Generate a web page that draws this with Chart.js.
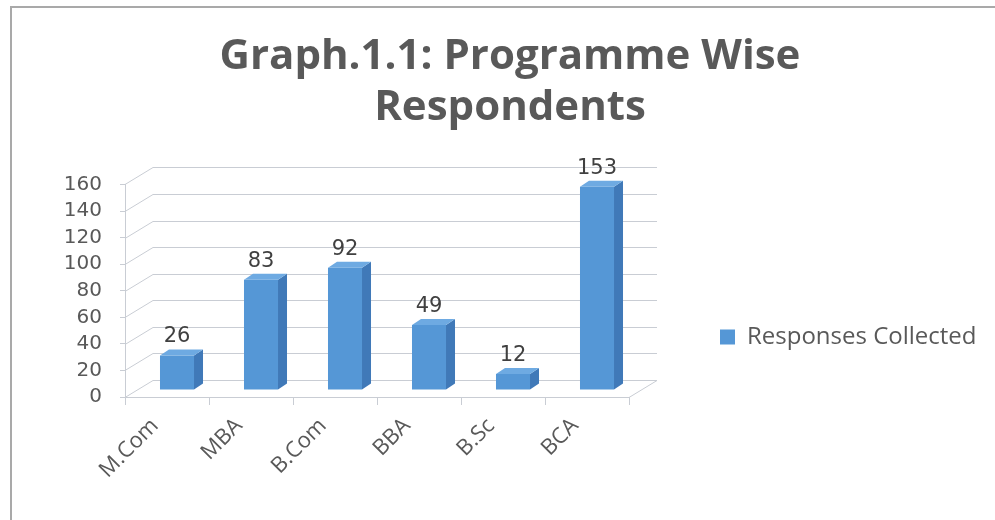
<!DOCTYPE html>
<html lang="en">
<head>
<meta charset="UTF-8">
<title>Programme Wise Respondents</title>
<script src="https://cdn.jsdelivr.net/npm/chart.js"></script>
<style>
  html, body { margin: 0; padding: 0; background: #fff; }
  #wrap { position: relative; width: 995px; height: 520px; }
</style>
</head>
<body>
<div id="wrap"><canvas id="myChart"></canvas></div>
<script>
// data
const programmes = ['M.Com', 'MBA', 'B.Com', 'BBA', 'B.Sc', 'BCA'];
const responses = [26, 83, 92, 49, 12, 153];
const seriesName = 'Responses Collected';
const titleLines = ['Graph.1.1: Programme Wise', 'Respondents'];
const yMin = 0, yMax = 160, yStep = 20;

// fake 3d look (Excel style)
const WALL_DX = 28, WALL_DY = -17;   // back wall offset from front axes
const BAR_DX = 10, BAR_DY = -7;      // bars stand half way in depth
const SIDE_DX = 9, SIDE_DY = -6;     // bar depth
const GRID = '#c9cdd4';
const TEXT = '#595959';

// legend placement: measure the label so the plot ends near x=629
const LEG_FONT = 24, LEG_BOX = 15, LEG_PAD = 48, GAP_W = 43;
const m = document.createElement('canvas').getContext('2d');
m.font = LEG_FONT + 'px "Open Sans"';
const legTextW = m.measureText(seriesName).width;
const padRight = Math.max(0, 995 - 629 - GAP_W - LEG_PAD - LEG_BOX - LEG_FONT / 2 - legTextW - 10);
const padLeft = padRight + 25;

const box3d = {
    id: 'box3d',
    beforeDatasetsDraw(chart) {
        const ctx = chart.ctx;
        const y = chart.scales.y;
        const a = chart.chartArea;
        ctx.save();
        ctx.strokeStyle = GRID;
        ctx.lineWidth = 1;
        y.ticks.forEach(t => {
            const py = Math.round(y.getPixelForValue(t.value)) + 0.5;
            ctx.beginPath();
            ctx.moveTo(a.left, py);
            ctx.lineTo(a.left + WALL_DX, py + WALL_DY);
            ctx.lineTo(a.right + WALL_DX, py + WALL_DY);
            ctx.stroke();
        });
        // floor right edge
        const by = Math.round(y.getPixelForValue(0)) + 0.5;
        ctx.beginPath();
        ctx.moveTo(a.right, by);
        ctx.lineTo(a.right + WALL_DX, by + WALL_DY);
        ctx.stroke();
        ctx.restore();

        ctx.save();
        ctx.translate(BAR_DX, BAR_DY);
    },
    afterDatasetsDraw(chart) {
        const ctx = chart.ctx;
        const meta = chart.getDatasetMeta(0);
        meta.data.forEach(bar => {
            const l = bar.x - bar.width / 2, r = bar.x + bar.width / 2;
            const top = bar.y, base = bar.base;
            // side
            ctx.fillStyle = '#4079b8';
            ctx.beginPath();
            ctx.moveTo(r, top);
            ctx.lineTo(r + SIDE_DX, top + SIDE_DY);
            ctx.lineTo(r + SIDE_DX, base + SIDE_DY);
            ctx.lineTo(r, base);
            ctx.closePath();
            ctx.fill();
            // top
            ctx.fillStyle = '#6eaae2';
            ctx.beginPath();
            ctx.moveTo(l, top);
            ctx.lineTo(l + SIDE_DX, top + SIDE_DY);
            ctx.lineTo(r + SIDE_DX, top + SIDE_DY);
            ctx.lineTo(r, top);
            ctx.closePath();
            ctx.fill();
        });
        ctx.restore();

        // value labels
        ctx.save();
        ctx.font = '21px "DejaVu Sans"';
        ctx.fillStyle = '#404040';
        ctx.textAlign = 'center';
        ctx.textBaseline = 'alphabetic';
        meta.data.forEach((bar, i) => {
            ctx.fillText(String(responses[i]), bar.x + BAR_DX, bar.y + BAR_DY - 13);
        });
        ctx.restore();
    },
    afterDraw(chart) {
        // frame of the pasted picture
        const ctx = chart.ctx;
        ctx.save();
        ctx.strokeStyle = '#a9a9a9';
        ctx.lineWidth = 2;
        ctx.beginPath();
        ctx.moveTo(11, 520);
        ctx.lineTo(11, 7);
        ctx.lineTo(995, 7);
        ctx.stroke();
        ctx.restore();
    }
};

function createChart() {
    const ctx = document.getElementById('myChart').getContext('2d');
    new Chart(ctx, {
        type: 'bar',
        data: {
            labels: programmes,
            datasets: [{
                label: seriesName,
                data: responses,
                backgroundColor: '#5597d6',
                borderWidth: 0,
                categoryPercentage: 1,
                barPercentage: 0.405,
                clip: false
            }]
        },
        options: {
            responsive: true,
            maintainAspectRatio: false,
            animation: false,
            layout: { padding: { left: padLeft, right: padRight, top: 0, bottom: 0 } },
            plugins: {
                title: {
                    display: true,
                    text: titleLines,
                    color: TEXT,
                    font: { family: '"Open Sans"', size: 42, weight: 'bold', lineHeight: 1.22 },
                    padding: { top: 31, bottom: 51 }
                },
                legend: {
                    position: 'right',
                    align: 'end',
                    fullSize: false,
                    maxWidth: 600,
                    labels: {
                        boxWidth: LEG_BOX,
                        boxHeight: LEG_BOX,
                        padding: LEG_PAD,
                        color: TEXT,
                        font: { family: '"Open Sans"', size: LEG_FONT }
                    }
                },
                tooltip: { enabled: false }
            },
            scales: {
                x: {
                    grid: { offset: true, drawOnChartArea: false, drawTicks: true, tickLength: 8, color: GRID },
                    border: { display: true, color: GRID },
                    ticks: {
                        minRotation: 45, maxRotation: 45,
                        padding: 8, labelOffset: -12,
                        color: TEXT,
                        font: { family: '"Open Sans"', size: 22 }
                    },
                    afterFit(s) { s.height = 123; }
                },
                y: {
                    min: yMin, max: yMax,
                    grid: { drawOnChartArea: false, drawTicks: true, tickLength: 5, color: GRID },
                    border: { display: true, color: GRID },
                    ticks: {
                        stepSize: yStep,
                        autoSkip: false,
                        padding: 18,
                        color: TEXT,
                        font: { family: '"DejaVu Sans"', size: 20 }
                    },
                    afterFit(s) { s.width = 125 - padLeft; }
                },
                gap: {
                    type: 'linear',
                    position: 'right',
                    display: true,
                    grid: { display: false, drawTicks: false },
                    border: { display: false },
                    ticks: { display: false },
                    afterFit(s) { s.width = GAP_W; }
                }
            }
        },
        plugins: [box3d]
    });
}

window.onload = createChart;
</script>
</body>
</html>
